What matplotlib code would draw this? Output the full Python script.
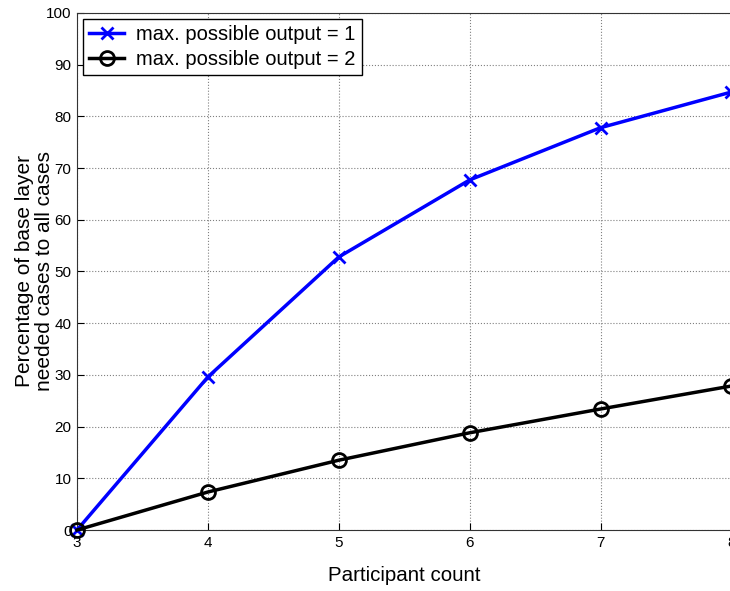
import matplotlib
matplotlib.use("Agg")
import matplotlib.pyplot as plt

participants = [3, 4, 5, 6, 7, 8]
output1 = [0, 29.6, 52.8, 67.7, 77.8, 84.7]
output2 = [0, 7.35, 13.5, 18.8, 23.4, 27.85]
labels = ["max. possible output = 1", "max. possible output = 2"]

plt.rcParams['font.family'] = ['Liberation Sans', 'DejaVu Sans']
fig = plt.figure(figsize=(7.3, 5.91), dpi=100)
ax = fig.add_axes([0.1055, 0.1032, 0.8965, 0.875])
ax.plot(participants, output1, color='blue', lw=2.5, marker='x', ms=9, mew=2, label=labels[0], clip_on=False, zorder=3)
ax.plot(participants, output2, color='black', lw=2.5, marker='o', ms=10, mew=2, mfc='none', label=labels[1], clip_on=False, zorder=3)
ax.set_xlim(3, 8)
ax.set_ylim(0, 100)
ax.set_xticks(participants)
ax.set_yticks(range(0, 101, 10))
ax.grid(True, linestyle=':', color='gray', lw=0.8)
ax.tick_params(direction='in', labelsize=11, length=5, pad=4)
for s in ax.spines.values():
    s.set_color('#333333')
ax.set_xlabel("Participant count", fontsize=14.8, labelpad=12)
ax.set_ylabel("Percentage of base layer\nneeded cases to all cases", fontsize=15, labelpad=-5.5, linespacing=1.05)
leg = ax.legend(loc='upper left', fontsize=14.5, fancybox=False, framealpha=1, edgecolor='black',
                borderaxespad=0.3, handlelength=1.75, handletextpad=0.6, borderpad=0.3, labelspacing=0.3)
leg.get_frame().set_linewidth(1.0)
fig.savefig("out.png", dpi=100)
